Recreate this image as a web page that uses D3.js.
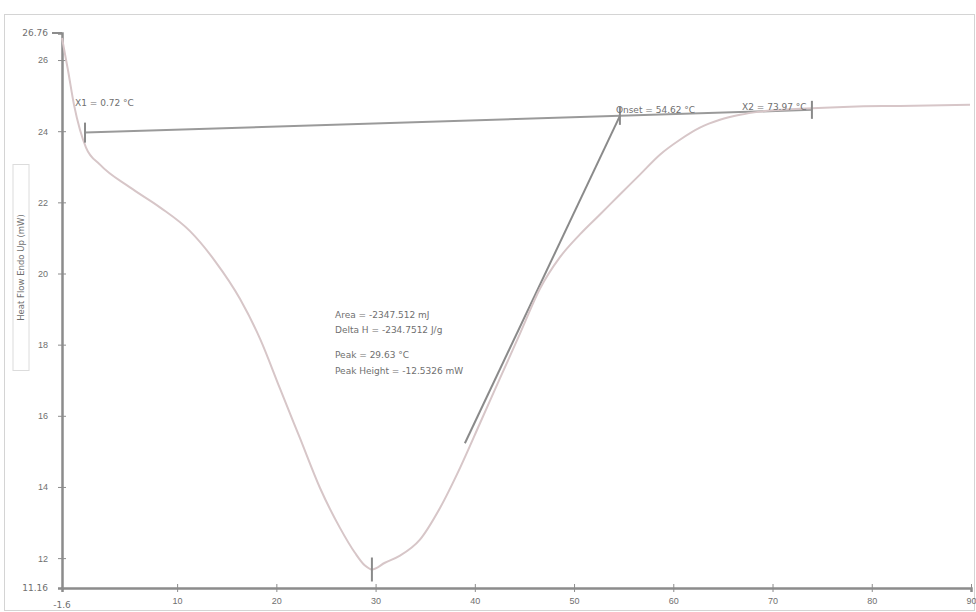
<!DOCTYPE html>
<html>
<head>
<meta charset="utf-8">
<script src="https://cdn.jsdelivr.net/npm/d3@7"></script>
<style>
  html, body { margin: 0; padding: 0; background: #fff; }
  svg { display: block; font-family: "DejaVu Sans", sans-serif; }
</style>
</head>
<body>
<svg id="chart" width="976" height="612"></svg>
<script>
// DSC cooling scan: heat flow vs temperature
const temps = [-1.6, -1.0, -0.39, 0.21, 0.82, 2.23, 5.25, 8.27, 11.30, 13.82, 16.33, 18.35, 20.36, 22.38,
  24.40, 26.41, 27.92, 28.93, 29.63, 30.94, 32.46, 34.47, 36.49, 38.50, 40.52, 42.53, 44.55, 46.56,
  48.58, 50.59, 52.61, 54.62, 56.64, 58.65, 60.67, 62.68, 64.70, 66.72, 68.73, 72.76, 77.80, 82.83, 89.9];
const heatFlow = [26.62, 25.72, 24.74, 24.04, 23.54, 23.06, 22.42, 21.86, 21.19, 20.35, 19.29, 18.17, 16.77, 15.37,
  13.97, 12.85, 12.15, 11.79, 11.68, 11.87, 12.07, 12.52, 13.41, 14.53, 15.79, 17.05, 18.31, 19.57,
  20.46, 21.10, 21.66, 22.22, 22.78, 23.34, 23.76, 24.10, 24.32, 24.46, 24.55, 24.63, 24.69, 24.71, 24.74];

// peak integration limits and tangent construction
const baselineTemps = [0.72, 73.97];
const baselineFlow = [23.96, 24.60];
const onsetTemp = 54.62;
const tangentLow = [39.0, 15.23];

const xTicks = [10, 20, 30, 40, 50, 60, 70, 80, 90];
const yTicks = [12, 14, 16, 18, 20, 22, 24, 26];
const xDomain = [-1.6, 90];
const yDomain = [11.16, 26.76];

const area = "-2347.512 mJ";
const deltaH = "-234.7512 J/g";
const yTitle = "Heat Flow Endo Up (mW)";

const svg = d3.select("#chart");
const W = 976, H = 612;

const x = d3.scaleLinear().domain(xDomain).range([62, 971]);
const y = d3.scaleLinear().domain(yDomain).range([588, 33]);

const grey = "#8c8c8c";
const textCol = "#6f6f6f";

// outer frame
svg.append("rect").attr("x", 4.5).attr("y", 14.5).attr("width", W - 6).attr("height", H - 16)
  .attr("fill", "none").attr("stroke", "#d4d4d4").attr("stroke-width", 1);

// axes
const yAxis = d3.axisLeft(y).tickValues(yTicks).tickSize(4).tickFormat(d3.format("d"));
const gy = svg.append("g").attr("transform", `translate(${x(xDomain[0])},0)`).call(yAxis);
gy.select(".domain").attr("stroke", grey).attr("stroke-width", 2.5);
gy.selectAll(".tick line").attr("stroke", grey).attr("x2", 4).attr("x1", -4);
gy.selectAll(".tick text").attr("fill", textCol).attr("font-size", 9).attr("x", -14);

const xAxis = d3.axisBottom(x).tickValues(xTicks).tickSize(4).tickFormat(d3.format("d"));
const gx = svg.append("g").attr("transform", `translate(0,${y(yDomain[0])})`).call(xAxis);
gx.select(".domain").attr("stroke", grey).attr("stroke-width", 2.5);
gx.selectAll(".tick line").attr("stroke", grey).attr("y1", -4).attr("y2", 4);
gx.selectAll(".tick text").attr("fill", textCol).attr("font-size", 9).attr("y", 10);

// axis end labels
svg.append("text").attr("x", x(xDomain[0])).attr("y", y(yDomain[0]) + 20)
  .attr("text-anchor", "middle").attr("font-size", 9).attr("fill", textCol).text(xDomain[0].toFixed(1));
svg.append("text").attr("x", x(xDomain[0]) - 14).attr("y", y(yDomain[0]) + 3)
  .attr("text-anchor", "end").attr("font-size", 9).attr("fill", textCol).text(yDomain[0].toFixed(2));
svg.append("text").attr("x", x(xDomain[0]) - 14).attr("y", y(yDomain[1]) + 3)
  .attr("text-anchor", "end").attr("font-size", 9).attr("fill", textCol).text(yDomain[1].toFixed(2));
svg.append("line").attr("x1", x(xDomain[0]) - 10).attr("x2", x(xDomain[0]))
  .attr("y1", y(yDomain[1])).attr("y2", y(yDomain[1])).attr("stroke", grey).attr("stroke-width", 2);

// y title in a box
const tg = svg.append("g").attr("transform", `translate(21,${(165 + 370) / 2}) rotate(-90)`);
tg.append("rect").attr("x", -103).attr("y", -8).attr("width", 206).attr("height", 16)
  .attr("fill", "none").attr("stroke", "#dcdcdc");
tg.append("text").attr("text-anchor", "middle").attr("dy", "0.35em")
  .attr("font-size", 8.5).attr("fill", textCol).text(yTitle);

// baseline between integration limits, extended to onset
const baseAt = t => baselineFlow[0] + (baselineFlow[1] - baselineFlow[0]) *
  (t - baselineTemps[0]) / (baselineTemps[1] - baselineTemps[0]);

svg.append("line")
  .attr("x1", x(baselineTemps[0])).attr("y1", y(baselineFlow[0]))
  .attr("x2", x(baselineTemps[1])).attr("y2", y(baselineFlow[1]))
  .attr("stroke", "#9a9a9a").attr("stroke-width", 2);

// tangent to the leading edge
svg.append("line")
  .attr("x1", x(tangentLow[0])).attr("y1", y(tangentLow[1]))
  .attr("x2", x(onsetTemp)).attr("y2", y(baseAt(onsetTemp)))
  .attr("stroke", "#8a8a8a").attr("stroke-width", 2);

// the heat flow curve
const pts = temps.map((t, i) => [t, heatFlow[i]]);
svg.append("path").datum(pts)
  .attr("d", d3.line().x(d => x(d[0])).y(d => y(d[1])).curve(d3.curveMonotoneX))
  .attr("fill", "none").attr("stroke", "#d7c6c8").attr("stroke-width", 2);

// peak
let pi = d3.minIndex(heatFlow);
const peakT = temps[pi], peakF = heatFlow[pi];
const peakH = peakF - baseAt(peakT);

// markers
function marker(t, f, len) {
  svg.append("line").attr("x1", x(t)).attr("x2", x(t))
    .attr("y1", y(f) - len).attr("y2", y(f) + len)
    .attr("stroke", "#8a8a8a").attr("stroke-width", 2);
}
marker(baselineTemps[0], baselineFlow[0], 10);
marker(baselineTemps[1], baselineFlow[1], 9);
marker(onsetTemp, baseAt(onsetTemp), 9);
marker(peakT, peakF, 12);

// annotations
function label(px, py, s) {
  svg.append("text").attr("x", px).attr("y", py).attr("font-size", 9).attr("fill", textCol).text(s);
}
label(75, 106, `X1 = ${baselineTemps[0].toFixed(2)} °C`);
label(x(onsetTemp) - 4, 113, `Onset = ${onsetTemp.toFixed(2)} °C`);
label(742, 110, `X2 = ${baselineTemps[1].toFixed(2)} °C`);

label(335, 318, `Area = ${area}`);
label(335, 333, `Delta H = ${deltaH}`);
label(335, 358, `Peak = ${peakT.toFixed(2)} °C`);
label(335, 374, `Peak Height = ${peakH.toFixed(4)} mW`);
</script>
</body>
</html>
